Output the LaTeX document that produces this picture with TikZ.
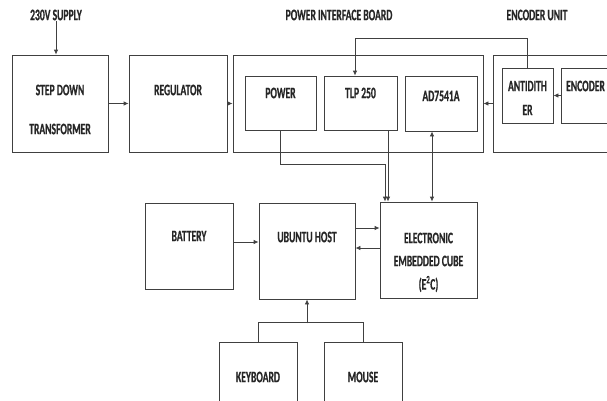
\documentclass[tikz,border=0pt]{standalone}
\usepackage{fontspec}
\newfontfamily\lblfont{Carlito}[UprightFont=*-Bold,FakeStretch=0.6,FakeBold=0.6]
\usetikzlibrary{arrows.meta}
\begin{document}
\begin{tikzpicture}[x=1pt,y=-1pt,
  font=\lblfont\fontsize{16}{18}\selectfont,
  blk/.style={draw=black!75,line width=0.8pt,inner sep=0pt},
  lbl/.style={inner sep=0pt,text=black!85},
  con/.style={draw=black!75,line width=0.8pt},
  arr/.style={con,-{Latex[length=5pt,width=4.5pt]}},
  darr/.style={con,{Latex[length=5pt,width=4.5pt]}-{Latex[length=5pt,width=4.5pt]}}]
\useasboundingbox (0,0) rectangle (607,400);
\clip (0,0) rectangle (607,400);
% boxes
\node[blk,minimum width=96pt,minimum height=97pt] (sdt) at (60,103.5) {};
\node[blk,minimum width=98pt,minimum height=97pt] (reg) at (178,103.5) {};
\node[blk,minimum width=250pt,minimum height=97pt] (pib) at (358,103.5) {};
\node[blk,minimum width=71pt,minimum height=54pt] (pow) at (280.5,103) {};
\node[blk,minimum width=73pt,minimum height=54pt] (tlp) at (360.5,103) {};
\node[blk,minimum width=72pt,minimum height=55pt] (ad) at (441,103.5) {};
\node[blk,minimum width=140pt,minimum height=97pt] (enu) at (563,103.5) {};
\node[blk,minimum width=51pt,minimum height=55pt] (ant) at (527.5,95.5) {};
\node[blk,minimum width=60pt,minimum height=55pt] (enc) at (591,95.5) {};
\node[blk,minimum width=88pt,minimum height=86pt] (bat) at (189,246) {};
\node[blk,minimum width=96pt,minimum height=96pt] (ubu) at (307,251) {};
\node[blk,minimum width=97pt,minimum height=96pt] (ecu) at (428.5,250) {};
\node[blk,minimum width=78pt,minimum height=80pt] (kbd) at (258,382) {};
\node[blk,minimum width=78pt,minimum height=80pt] (mou) at (363,382) {};
% labels
\node[lbl] (t230) at (56,15) {230V SUPPLY};
\node[lbl] (tpib) at (339,15) {POWER INTERFACE BOARD};
\node[lbl] (tenu) at (537,15) {ENCODER UNIT};
\node[lbl] at (60,90) {STEP DOWN};
\node[lbl] at (60,129) {TRANSFORMER};
\node[lbl] at (178,90) {REGULATOR};
\node[lbl] at (280.5,93) {POWER};
\node[lbl] at (360.5,93) {TLP 250};
\node[lbl] at (441,96) {AD7541A};
\node[lbl] at (527.5,86) {ANTIDITH};
\node[lbl] at (527.5,110) {ER};
\node[lbl,anchor=west] at (566,86) {ENCODER};
\node[lbl] at (189,236) {BATTERY};
\node[lbl] at (307,237) {UBUNTU HOST};
\node[lbl] at (428.5,238) {ELECTRONIC};
\node[lbl] at (428.5,261) {EMBEDDED CUBE};
\node[lbl] at (428.5,284) {(E\textsuperscript{2}C)};
\node[lbl] at (258,377) {KEYBOARD};
\node[lbl] at (363,377) {MOUSE};
% connectors
\draw[arr] (t230.south -| sdt.north) ++(-4,0) coordinate (s0) -- (s0 |- sdt.north);
\draw[arr] (sdt.east) -- (reg.west);
\draw[arr] (reg.east) -- (pib.west);
\draw[arr] (enu.west) -- (pib.east);
\draw[arr] (enc.west) -- (ant.east);
\draw[arr] (ant.north) -- ++(0,-29) -| ([xshift=-5.5pt]tlp.north);
\draw[arr] (pow.south) -- ++(0,34) -| ([xshift=-43.5pt]ecu.north);
\draw[arr] ([xshift=27.5pt]tlp.south) -- ([xshift=-40.5pt]ecu.north);
\draw[darr] ([xshift=-9pt]ad.south) -- ([xshift=3.5pt]ecu.north);
\draw[arr] (bat.east |- ubu.west) ++(0,-9) coordinate (b0) -- (b0 -| ubu.west);
\draw[arr] ([yshift=23pt]ubu.east) -- ([yshift=22pt]ecu.west);
\draw[arr] ([yshift=2pt]ecu.west) -- ([yshift=3pt]ubu.east);
\draw[con] (kbd.north) -- ++(0,-19) -| (mou.north);
\draw[arr] (ubu.south) ++(0,24) coordinate (k0) -- (ubu.south);
\end{tikzpicture}
\end{document}
